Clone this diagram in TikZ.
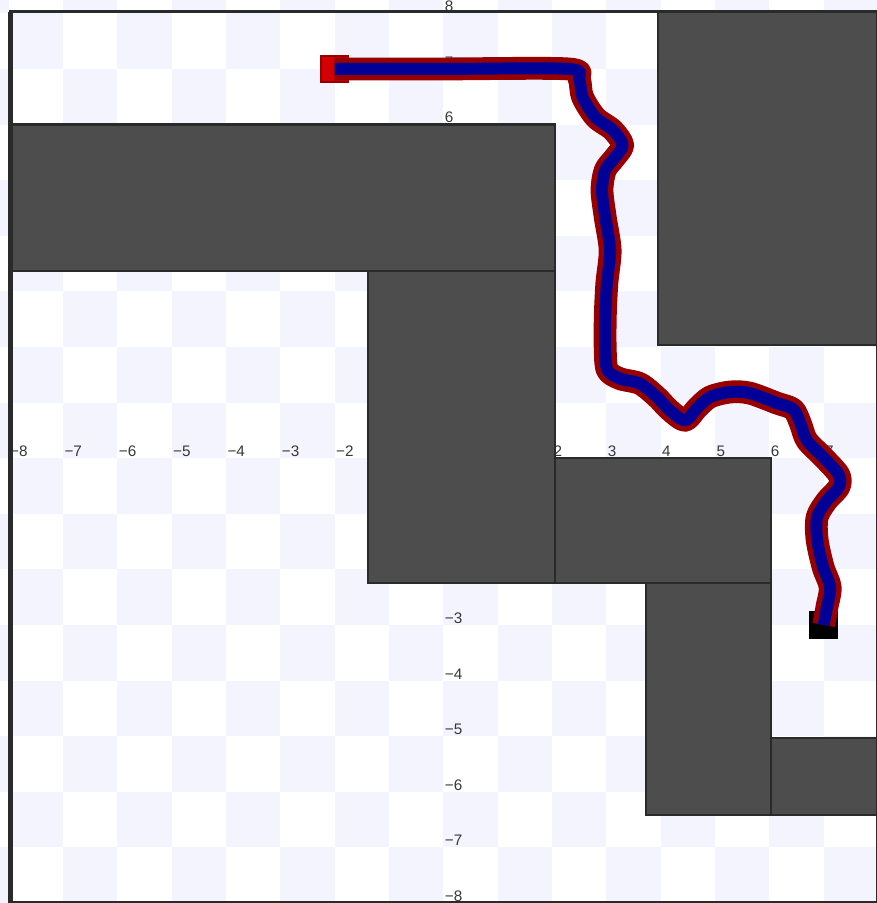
\documentclass[tikz,border=0pt]{standalone}
\usepackage{fontspec}
\setsansfont{Liberation Sans}
\definecolor{mapfree}{RGB}{244,244,255}
\definecolor{mapwall}{RGB}{77,77,77}
\definecolor{mapedge}{RGB}{42,42,42}
\definecolor{trailred}{RGB}{150,0,0}
\definecolor{trailblue}{RGB}{0,0,150}
\definecolor{srcred}{RGB}{210,0,0}
\definecolor{ticktext}{RGB}{55,55,55}
\newcommand\ticktext[1]{\ifnum#1<0 −\number-#1\else#1\fi}
\begin{document}
\begin{tikzpicture}[y=1.0234cm,
      obst/.style={draw=mapedge,fill=mapwall,line width=1.1pt},
      tick/.style={anchor=south west,inner sep=0.6pt,font=\sffamily\footnotesize,text=ticktext},
      src/.style={draw=trailred,fill=srcred,line width=0.8pt,minimum width=0.5cm,minimum height=0.48cm,inner sep=0pt},
      dst/.style={fill=black,minimum width=0.53cm,minimum height=0.53cm,inner sep=0pt},
      trail/.style={draw=trailblue,line width=0.22cm,line join=round,
        preaction={draw=trailred,line width=0.42cm,line join=round}}]
  \useasboundingbox (-8.16,-8.0) rectangle (7.98,8.24);
  \clip (-8.16,-8.0) rectangle (7.98,8.24);
  % checkerboard floor
  \foreach \i in {-9,...,7}
    \foreach \j in {-8,...,8}{
      \pgfmathtruncatemacro\cellodd{mod(\i+\j+20,2)}
      \ifnum\cellodd=1 \fill[mapfree] (\i,\j) rectangle ++(1,1); \fi
    }
  % axis numbers
  \foreach \k in {-8,...,-2,2,3,...,7}
    \node[tick] (xt\k) at (\k,0) {\ticktext{\k}};
  \foreach \k in {8,7,6,-3,-4,...,-8}
    \node[tick] (yt\k) at (0,\k) {\ticktext{\k}};
  % obstacles
  \draw[obst] (-7.96,3.37) rectangle (2.05,6.0);
  \draw[obst] (-1.38,-2.25) rectangle (2.05,3.37);
  \draw[obst] (2.05,-2.25) rectangle (6.03,0);
  \draw[obst] (3.73,-6.42) rectangle (6.03,-2.25);
  \draw[obst] (6.03,-6.42) rectangle (8,-5.04);
  \draw[obst] (3.95,2.03) rectangle (8,8.03);
  % world boundary
  \draw[mapedge,line width=1.6pt] (-7.96,-8) rectangle (8,8.03);
  \draw[mapedge,line width=2.6pt] (-7.96,-8) -- (-7.96,8.03);
  % start / goal and the planned route
  \node[src] (start) at (-2,7) {};
  \node[dst] (goal) at (7,-3) {};
  \draw[trail] plot[smooth,tension=0.5] coordinates {(start.center) (0,7) (2.3,7)
    (2.5,6.82) (2.56,6.5) (2.8,6.13) (3.12,5.9) (3.3,5.63) (3.15,5.4) (2.98,5.18)
    (2.92,4.82) (2.98,4.33) (3.07,3.74) (3.01,3.15) (2.98,2.54) (2.98,1.94) (3.02,1.58)
    (3.25,1.43) (3.62,1.34) (3.93,1.1) (4.17,0.86) (4.45,0.68) (4.67,0.9) (4.91,1.1)
    (5.28,1.19) (5.64,1.17) (6.14,0.99) (6.44,0.88) (6.57,0.63) (6.69,0.32) (6.99,0.02)
    (7.28,-0.3) (7.28,-0.52) (7.06,-0.76) (6.88,-1.06) (6.88,-1.47) (6.99,-1.96)
    (7.12,-2.32) (7.06,-2.68) (goal.center)};
\end{tikzpicture}
\end{document}
